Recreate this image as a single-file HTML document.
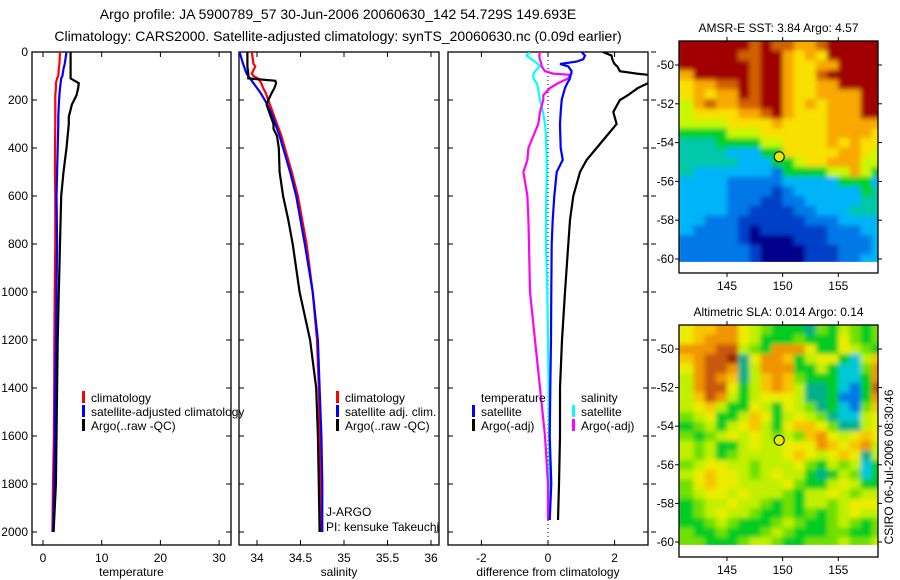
<!DOCTYPE html>
<html><head><meta charset="utf-8">
<style>
body{margin:0;background:#fff;}
svg{display:block;font-family:"Liberation Sans",sans-serif;}
text{fill:#000;}
</style></head>
<body>
<svg id="fig" width="900" height="580" viewBox="0 0 900 580" xmlns="http://www.w3.org/2000/svg">
<defs><filter id="soft" x="-5%" y="-5%" width="110%" height="110%"><feGaussianBlur stdDeviation="2.5"/></filter></defs>
<text x="338" y="19" font-size="14" text-anchor="middle">Argo profile: JA 5900789_57 30-Jun-2006 20060630_142 54.729S 149.693E</text>
<text x="338" y="41" font-size="14" text-anchor="middle">Climatology: CARS2000. Satellite-adjusted climatology: synTS_20060630.nc (0.09d earlier)</text>
<g id="plots"></g>
<text transform="translate(893,467) rotate(-90)" font-size="12" text-anchor="middle">CSIRO 06-Jul-2006 08:30:46</text>
</svg>
<script>
// ---- data ----
const depthTicks=[0,200,400,600,800,1000,1200,1400,1600,1800,2000];
const tDepth=[0,50,70,100,110,130,150,180,220,270,300,400,500,600,800,1000,1200,1400,1600,1800,2000];
const tempClim=[2.9,2.8,2.7,2.6,2.4,2.2,2.2,2.1,2.1,2.1,2.1,2.05,2.05,2.1,2.1,2.0,1.95,1.9,1.85,1.7,1.6];
const tempSat=[4.0,3.7,3.5,3.3,3.1,3.0,2.9,2.8,2.7,2.6,2.6,2.5,2.4,2.3,2.4,2.3,2.2,2.1,2.0,1.9,1.7];
const tempArgo=[4.7,4.7,4.7,4.7,4.7,6.1,6.0,5.7,4.9,4.4,4.4,4.0,3.5,3.1,2.9,2.7,2.5,2.4,2.3,2.2,1.8];
const sDepth=[0,50,60,90,100,110,120,130,150,170,200,220,260,300,320,350,400,500,600,700,800,1000,1200,1400,1600,1800,2000];
const salClim=[33.94,33.96,33.98,33.94,33.96,34.01,34.03,34.05,34.07,34.10,34.13,34.15,34.19,34.23,34.25,34.28,34.32,34.40,34.47,34.52,34.57,34.64,34.69,34.71,34.72,34.73,34.74];
const salSat=[33.80,33.84,33.85,33.88,33.90,33.92,33.94,33.96,34.00,34.04,34.09,34.12,34.17,34.21,34.23,34.26,34.30,34.38,34.45,34.50,34.55,34.64,34.70,34.72,34.74,34.75,34.75];
const salArgo=[33.89,33.89,33.89,33.90,33.90,33.90,34.21,34.22,34.20,34.17,34.13,34.11,34.15,34.19,34.19,34.23,34.25,34.26,34.30,34.36,34.41,34.49,34.61,34.68,34.70,34.71,34.72];
const dDepth=[0,15,30,40,50,60,80,90,95,110,130,150,180,200,250,300,350,400,450,500,600,700,800,1000,1200,1400,1600,1800,1950];
const dTempSat=[1.01,1.11,1.06,0.86,0.36,0.61,0.71,0.70,0.68,0.66,0.58,0.51,0.45,0.41,0.38,0.36,0.37,0.38,0.44,0.26,0.19,0.14,0.11,0.10,0.09,0.07,0.05,0.10,0.05];
const dTempArgo=[1.65,1.91,1.93,1.96,2.0,2.08,2.16,2.66,3.0,3.3,3.0,2.7,2.4,2.16,1.96,2.06,1.76,1.46,1.16,0.96,0.76,0.66,0.61,0.51,0.42,0.36,0.36,0.33,0.30];
const dSalSat=[-0.56,-0.64,-0.50,-0.39,-0.30,-0.24,-0.39,-0.42,-0.44,-0.44,-0.34,-0.30,-0.27,-0.24,-0.15,-0.09,-0.06,-0.05,-0.04,-0.04,-0.05,-0.06,-0.06,-0.02,0.0,0.02,0.03,0.05,0.06];
const dSalArgo=[-0.24,-0.26,-0.25,-0.22,-0.20,-0.19,-0.09,0.16,0.66,0.61,0.30,0.06,-0.14,-0.14,-0.24,-0.29,-0.44,-0.59,-0.62,-0.74,-0.62,-0.59,-0.57,-0.54,-0.39,-0.24,-0.09,0.0,0.0];
const tempTicks=[0,10,20,30];
const salTicks=[34,34.5,35,35.5,36];
const diffTicks=[-2,0,2];
const latTicks=[-50,-52,-54,-56,-58,-60];
const lonTicks=[145,150,155];
const sstGrid=["AAAAAA9A99889AAAAA","AAAAA99AA8787AAAAA","AAAAAA9AA87788AAAA","8AAAAA9AA8779AAAAA","78899A9AA87788AAAA","78788A9AA8778888AA","6898899AA8787888AA","67777889A8777888AA","666677778777788888","555566677777788887","444555566777787877","444433355777778876","444443335567788866","433333332555566865","333322222333335553","333322221233333354","333322211223333344","333322111122333444","332221111112223333","322221011111122233","222221000011122223","222222100001112223","222222100001112233"];
const slaGrid=["677886543332435434","678886533343336434","888995438886336543","7899A2688735663157","689982588833531148","589872578743331138","589963578752231039","579853566652230038","567533653654231047","456335763565421156","345356753677642256","434565654547865676","545335655666876785","545345555676567625","456655455564354513","567665456553235413","467665555643356533","456656555435565455","345565543435545666","345655433434345655","334543334543345434","433433345433344334","443334554334445445"];
const sstColors=["#00008c","#0040c8","#0078e8","#00b4f8","#00c8a8","#00d028","#c8f800","#f8e000","#f8a800","#d06000","#a00000"];
const slaColors=["#0078e8","#00c8d8","#00b088","#00cc20","#70e000","#c0f000","#ecec00","#f8c400","#f09400","#c85808","#a02000"];
const argoLon=149.693, argoLat=-54.729;

// ---- helpers ----
const NS="http://www.w3.org/2000/svg";
const root=document.getElementById('plots');
function mk(tag,attrs,parent){const e=document.createElementNS(NS,tag);for(const k in attrs)e.setAttribute(k,attrs[k]);(parent||root).appendChild(e);return e;}
function txt(x,y,s,size,anchor,parent){const t=mk('text',{x:x,y:y,'font-size':size||12,'text-anchor':anchor||'middle'},parent);t.textContent=s;return t;}

const PY0=52, PPX=0.24;
function yD(d){return PY0+d*PPX;}
const panels=[
 {x0:32,x1:231,v0:43,k:5.87,ref:0,ticks:tempTicks,label:'temperature',name:'temperature-panel'},
 {x0:239,x1:439,v0:257,k:87,ref:34,ticks:salTicks,label:'salinity',name:'salinity-panel'},
 {x0:448,x1:648,v0:548,k:33.3,ref:0,ticks:diffTicks,label:'difference from climatology',name:'difference-panel'}
];
function xF(p){return v=>p.v0+(v-p.ref)*p.k;}
const PB=545;
panels.forEach((p,i)=>{
  const g=mk('g',{});
  
  
  const cp=mk('clipPath',{id:'clip'+i},g);
  mk('rect',{x:p.x0,y:PY0,width:p.x1-p.x0,height:PB-PY0},cp);
  const fr=mk('rect',{x:p.x0,y:PY0,width:p.x1-p.x0,height:PB-PY0,fill:'none',stroke:'#000','stroke-width':1.3},g);
  
  
  const X=xF(p);
  p.ticks.forEach(t=>{
    const x=X(t);
    mk('line',{x1:x,x2:x,y1:PB,y2:PB-5,stroke:'#000'},g);
    mk('line',{x1:x,x2:x,y1:PY0,y2:PY0+5,stroke:'#000'},g);
    const tl=txt(x,562,String(t),12,'middle',g);
    
    
  });
  depthTicks.forEach(d=>{
    const y=yD(d);
    mk('line',{x1:p.x0,x2:p.x0+5,y1:y,y2:y,stroke:'#000'},g);
    mk('line',{x1:p.x1,x2:p.x1-5,y1:y,y2:y,stroke:'#000'},g);
    if(i===0){const yl=txt(28,y+4,String(d),12,'end',g);
      
      }
    if(i===2){mk('line',{x1:p.x1+3,x2:p.x1+8,y1:y,y2:y,stroke:'#000'},g);}
  });
  const xl=txt((p.x0+p.x1)/2,576,p.label,12,'middle',g);
  
  
  p.g=g;
});
function line(p,pi,xs,ds,color,name){
  const X=xF(p);
  const pts=xs.map((v,j)=>X(v).toFixed(1)+','+yD(ds[j]).toFixed(1)).join(' ');
  const l=mk('polyline',{points:pts,fill:'none',stroke:color,'stroke-width':2.2,'clip-path':'url(#clip'+pi+')'},p.g);
  
  
}
{const p=panels[2];const x=xF(p)(0);
 const z=mk('line',{x1:x,x2:x,y1:PY0,y2:PB,stroke:'#000','stroke-dasharray':'1,3'},p.g);
 
 }
line(panels[0],0,tempClim,tDepth,'#f00','temp-climatology-line');
line(panels[0],0,tempSat,tDepth,'#00f','temp-satellite-line');
line(panels[0],0,tempArgo,tDepth,'#000','temp-argo-line');
line(panels[1],1,salClim,sDepth,'#f00','sal-climatology-line');
line(panels[1],1,salSat,sDepth,'#00f','sal-satellite-line');
line(panels[1],1,salArgo,sDepth,'#000','sal-argo-line');
line(panels[2],2,dSalSat,dDepth,'#0ff','diff-sal-satellite-line');
line(panels[2],2,dSalArgo,dDepth,'#f0f','diff-sal-argo-line');
line(panels[2],2,dTempSat,dDepth,'#00f','diff-temp-satellite-line');
line(panels[2],2,dTempArgo,dDepth,'#000','diff-temp-argo-line');

function legend(g,x,y,color,label){
  const e=mk('g',{},g);
  
  
  if(color)mk('rect',{x:x,y:y-11,width:3,height:12,fill:color},e);
  txt(x+9,y,label,12,'start',e);
}
legend(panels[0].g,82,402,'#f00','climatology');
legend(panels[0].g,82,416,'#00f','satellite-adjusted climatology');
legend(panels[0].g,82,430,'#000','Argo(..raw -QC)');
legend(panels[1].g,336,402,'#f00','climatology');
legend(panels[1].g,336,416,'#00f','satellite adj. clim.');
legend(panels[1].g,336,430,'#000','Argo(..raw -QC)');
legend(panels[2].g,472,402,null,'temperature');
legend(panels[2].g,472,416,'#00f','satellite');
legend(panels[2].g,472,430,'#000','Argo(-adj)');
legend(panels[2].g,572,402,null,'salinity');
legend(panels[2].g,572,416,'#0ff','satellite');
legend(panels[2].g,572,430,'#f0f','Argo(-adj)');
{const a=txt(326,516,'J-ARGO',12,'start',panels[1].g);
 
 const b=txt(326,531,'PI: kensuke Takeuchi',12,'start',panels[1].g);
 }

// ---- maps ----
function map(top,bottom,yRef,grid,colors,title,name,id){
  const x0=679,x1=878;
  const g=mk('g',{});
  
  
  const kLat=(yRef[1]-yRef[0])/10;
  const yL=l=>yRef[0]+(-50-l)*kLat;
  const xL=l=>727+(l-145)*11.13;
  const lat0=-50+(yRef[0]-top)/kLat;
  const cp=mk('clipPath',{id:id},g);
  mk('rect',{x:x0,y:top,width:x1-x0,height:yL(-60.15)-top},cp);
  const outer=mk('g',{'clip-path':'url(#'+id+')'},g);
  const cells=mk('g',{filter:'url(#soft)'},outer);
  grid.forEach((row,r)=>{
    for(let c=0;c<row.length;c++){
      const la=lat0-r*0.5, lo=141+c;
      let x=xL(lo), w=11.6, y=yL(la), h=kLat*0.5+0.6;
      if(c===0){x-=6;w+=6;} if(c===row.length-1){w+=8;}
      if(r===0){y-=6;h+=6;} if(r===grid.length-1){h+=8;}
      const rc=mk('rect',{x:x.toFixed(1),y:y.toFixed(1),width:w.toFixed(1),height:h.toFixed(1),fill:colors[parseInt(row[c],16)]},cells);
      
      
    }
  });
  mk('rect',{x:x0,y:top,width:x1-x0,height:bottom-top,fill:'none',stroke:'#000','stroke-width':1.3},g);
  latTicks.forEach(l=>{const y=yL(l);
    mk('line',{x1:x0,x2:x0-4,y1:y,y2:y,stroke:'#000'},g);
    mk('line',{x1:x1,x2:x1+4,y1:y,y2:y,stroke:'#000'},g);
    const t=txt(x0-5,y+4,String(l),12,'end',g);
    });
  lonTicks.forEach(l=>{const x=xL(l);
    mk('line',{x1:x,x2:x,y1:top,y2:top-4,stroke:'#000'},g);
    mk('line',{x1:x,x2:x,y1:bottom,y2:bottom+4,stroke:'#000'},g);
    const t=txt(x,bottom+17,String(l),12,'middle',g);
    });
  const tt=txt((x0+x1)/2,top-9,title,12,'middle',g);
  
  const m=mk('circle',{cx:xL(argoLon),cy:yL(argoLat),r:5,fill:'#e8e800',stroke:'#000','stroke-width':1},g);
  
  
}
map(41,273,[65,259],sstGrid,sstColors,'AMSR-E SST: 3.84 Argo: 4.57','sst-map','clipSst');
map(325,557,[349,542],slaGrid,slaColors,'Altimetric SLA: 0.014 Argo: 0.14','sla-map','clipSla');
</script>
</body></html>
